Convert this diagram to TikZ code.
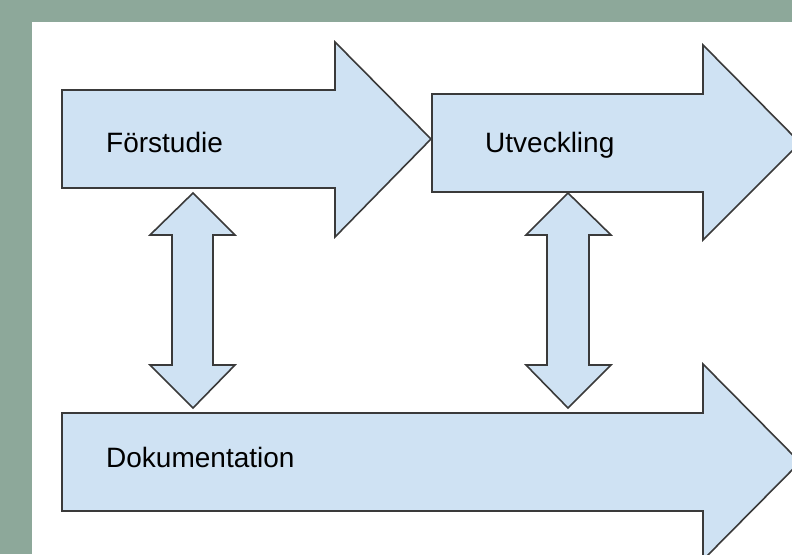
\documentclass[tikz,border=0pt]{standalone}
\usepackage{fontspec}
\setmainfont{Liberation Sans}
\usetikzlibrary{positioning}
\definecolor{ramgron}{HTML}{8DA89A}
\definecolor{pilbla}{HTML}{CFE2F3}
\definecolor{kant}{HTML}{3A3A3A}

\begin{document}
\begin{tikzpicture}[x=1pt, y=-1pt, pil/.style={fill=pilbla, draw=kant, line width=1.6pt, line join=miter}, etikett/.style={anchor=base west, inner sep=0pt, font=\fontsize{28}{32}\selectfont}]
            % Ram
            \fill[ramgron] (0,0) rectangle (792,554);
            \fill[white] (32,22) rectangle (792,554);
            \useasboundingbox (0,0) rectangle (792,554);
            % Faser
            \begin{scope}
                \clip (0,0) rectangle (792,554);
                \draw[pil] (62,90) -- (335,90) -- (335,42) -- (431,139) -- (335,237) -- (335,188) -- (62,188) -- cycle;
                \draw[pil] (432,94) -- (703,94) -- (703,45) -- (800,143) -- (703,240) -- (703,192) -- (432,192) -- cycle;
                \draw[pil] (62,413) -- (703,413) -- (703,364) -- (800,462) -- (703,560) -- (703,511) -- (62,511) -- cycle;
            \end{scope}
            % Dubbelpilar
            \draw[pil] (193,193) -- (235,235) -- (213,235) -- (213,365) -- (235,365) -- (193,408) -- (150,365) -- (172,365) -- (172,235) -- (150,235) -- cycle;
            \draw[pil] (568,193) -- (611,235) -- (589,235) -- (589,365) -- (611,365) -- (568,408) -- (526,365) -- (547,365) -- (547,235) -- (526,235) -- cycle;
            % Texter
            \node[etikett] (forstudie) at (106,152) {Förstudie};
            \node[etikett] (utveckling) at (485,152) {Utveckling};
            \node[etikett] (dokumentation) at (106,467) {Dokumentation};
        \end{tikzpicture}
\end{document}
